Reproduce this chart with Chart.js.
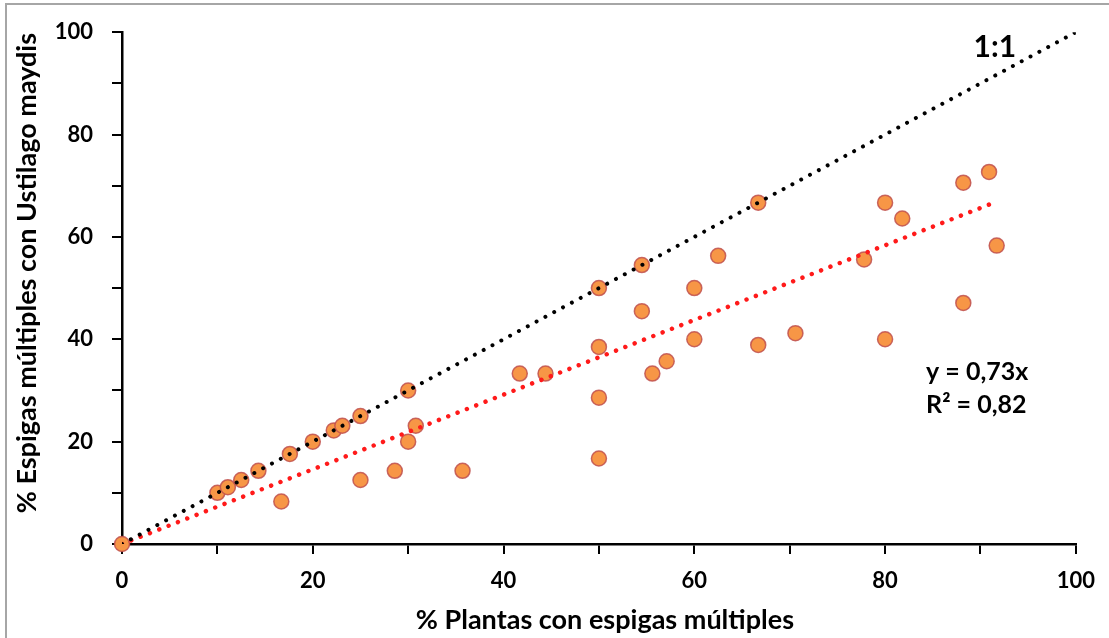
<!DOCTYPE html>
<html>
<head>
<meta charset="utf-8">
<script src="https://cdn.jsdelivr.net/npm/chart.js@4.4.0/dist/chart.umd.min.js"></script>
<style>
  html, body { margin: 0; padding: 0; background: #ffffff; }
  #wrap { width: 1109px; height: 638px; position: relative; }
</style>
</head>
<body>
<div id="wrap"><canvas id="c" width="1109" height="638"></canvas></div>
<script>
// ---- Data ----
const plantasX = [0, 10, 11.1, 12.5, 14.3, 17.6, 20, 22.2, 23.1, 25, 30,
  16.7, 25, 28.6, 30, 30.8, 35.7, 41.7, 44.4, 50, 50, 50, 50,
  54.5, 54.5, 55.6, 57.1, 60, 60, 62.5, 66.7, 66.7, 70.6, 77.8,
  80, 80, 81.8, 88.2, 88.2, 90.9, 91.7];
const espigasY = [0, 10, 11.1, 12.5, 14.3, 17.6, 20, 22.2, 23.1, 25, 30,
  8.3, 12.5, 14.3, 20, 23.1, 14.3, 33.3, 33.3, 16.7, 28.6, 38.5, 50,
  54.5, 45.5, 33.3, 35.7, 50, 40, 56.3, 38.9, 66.7, 41.2, 55.6,
  66.7, 40, 63.6, 70.6, 47.1, 72.7, 58.3];
const lineaX = [0, 100];          // 1:1 line
const lineaY = [0, 100];
const tendX = [0, 91.7];          // fitted trend line y = 0,73x
const tendY = [0, 66.9];
const xTicks = [0, 20, 40, 60, 80, 100];
const yTicks = [0, 20, 40, 60, 80, 100];
const xTitle = '% Plantas con espigas múltiples';
const yTitle = '% Espigas múltiples con Ustilago maydis';
const labelUno = '1:1';
const eqText = 'y = 0,73x';
const r2Text = 'R² = 0,82';

const toPts = (xs, ys) => xs.map((x, i) => ({ x: x, y: ys[i] }));
const FONT = 'Lato, "Open Sans", sans-serif';

const frame = {
  id: 'frame',
  beforeDraw(chart) {
    const ctx = chart.ctx;
    ctx.save();
    ctx.fillStyle = '#ffffff';
    ctx.fillRect(0, 0, chart.width, chart.height);
    ctx.strokeStyle = '#a6a6a6';
    ctx.lineWidth = 2;
    ctx.beginPath();
    ctx.moveTo(6, chart.height);
    ctx.lineTo(6, 4);
    ctx.lineTo(chart.width, 4);
    ctx.stroke();
    ctx.restore();
  }
};

const notes = {
  id: 'notes',
  afterDraw(chart) {
    const ctx = chart.ctx, xs = chart.scales.x, ys = chart.scales.y;
    ctx.save();
    ctx.fillStyle = '#000000';
    ctx.textBaseline = 'middle';
    ctx.textAlign = 'center';
    // axis titles
    ctx.font = 'bold 27px ' + FONT;
    ctx.fillText(xTitle, (xs.left + xs.right) / 2 + 6, xs.bottom - 18);
    ctx.save();
    ctx.translate(27, (ys.top + ys.bottom) / 2 - 15);
    ctx.rotate(-Math.PI / 2);
    ctx.fillText(yTitle, 0, 0);
    ctx.restore();
    // annotations
    ctx.font = 'bold 30px ' + FONT;
    ctx.fillText(labelUno, xs.getPixelForValue(91.5), ys.getPixelForValue(97.1));
    ctx.textAlign = 'left';
    ctx.font = 'bold 25px ' + FONT;
    ctx.fillText(eqText, xs.getPixelForValue(84.3), ys.getPixelForValue(33.6));
    ctx.fillText(r2Text, xs.getPixelForValue(84.3), ys.getPixelForValue(27.1));
    ctx.restore();
  }
};

new Chart(document.getElementById('c'), {
  type: 'scatter',
  data: {
    datasets: [
      {
        type: 'line', label: '1:1', data: toPts(lineaX, lineaY),
        borderColor: '#000000', borderWidth: 4, borderDash: [0.01, 10],
        borderCapStyle: 'round', pointRadius: 0, fill: false, order: 0
      },
      {
        type: 'line', label: 'Tendencia', data: toPts(tendX, tendY),
        borderColor: '#ff1a1a', borderWidth: 4.5, borderDash: [0.01, 10],
        borderCapStyle: 'round', pointRadius: 0, fill: false, order: 1
      },
      {
        label: 'Datos', data: toPts(plantasX, espigasY), clip: false,
        backgroundColor: '#f79646', borderColor: 'rgba(192,80,77,0.85)',
        borderWidth: 1.5, pointRadius: 7.5, pointHoverRadius: 7.5, order: 2
      }
    ]
  },
  options: {
    responsive: false,
    animation: false,
    layout: { padding: { top: 31, right: 32, left: 0, bottom: 0 } },
    plugins: { legend: { display: false }, tooltip: { enabled: false } },
    scales: {
      x: {
        type: 'linear', min: 0, max: 100,
        afterFit(s) { s.height = 94; },
        afterBuildTicks(s) { s.ticks = [0,10,20,30,40,50,60,70,80,90,100].map(v => ({ value: v })); },
        border: { color: '#000000', width: 2.5 },
        grid: { drawOnChartArea: false, drawTicks: true, tickLength: 10, color: '#000000', lineWidth: 2 },
        ticks: {
          color: '#000000', padding: 14, maxRotation: 0, autoSkip: false,
          font: { family: FONT, size: 22, weight: 'bold' },
          callback: v => xTicks.includes(v) ? String(v) : ''
        },
        title: { display: false }
      },
      y: {
        type: 'linear', min: 0, max: 100,
        afterFit(s) { s.width = 122; },
        afterBuildTicks(s) { s.ticks = [0,10,20,30,40,50,60,70,80,90,100].map(v => ({ value: v })); },
        border: { color: '#000000', width: 2.5 },
        grid: { drawOnChartArea: false, drawTicks: true, tickLength: 10, color: '#000000', lineWidth: 2 },
        ticks: {
          color: '#000000', padding: 19, autoSkip: false,
          font: { family: FONT, size: 22, weight: 'bold' },
          callback: v => yTicks.includes(v) ? String(v) : ''
        },
        title: { display: false }
      }
    }
  },
  plugins: [frame, notes]
});
</script>
</body>
</html>
